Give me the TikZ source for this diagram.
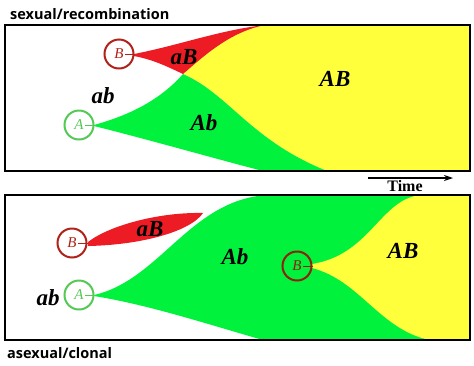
\documentclass[tikz,border=0pt]{standalone}
\usepackage{fontspec}
\setmainfont{Liberation Serif}
\newfontfamily\titlefont{Open Sans}
\usetikzlibrary{arrows.meta}
\definecolor{redfill}{RGB}{237,28,36}
\definecolor{greenfill}{RGB}{0,242,60}
\definecolor{yellowfill}{RGB}{255,255,60}
\definecolor{darkred}{RGB}{175,35,25}
\definecolor{darkbrown}{RGB}{140,35,10}
\definecolor{lightgreen}{RGB}{85,200,85}

\begin{document}
\begin{tikzpicture}[x=1pt,y=-1pt,
    allele/.style={circle,draw,line width=2pt,minimum size=29pt,inner sep=0pt,
      font=\fontsize{15}{15}\selectfont\itshape},
    geno/.style={font=\fontsize{23}{23}\selectfont\bfseries\itshape},
    heading/.style={font=\titlefont\fontsize{14.5}{14.5}\selectfont\bfseries,anchor=base west,inner sep=0pt},
    frame/.style={draw,line width=1.8pt}]
    \useasboundingbox (0,0) rectangle (474,365);

    % Top panel: sexual/recombination
    \fill[yellowfill] (183,74) .. controls (205,55) and (230,32) .. (265,25) -- (470,25)
        -- (470,171) -- (327,171) .. controls (250,140) and (230,95) .. (183,74) -- cycle;
    \fill[redfill] (134,54) .. controls (180,45) and (220,30) .. (265,25)
        .. controls (230,32) and (205,55) .. (183,74)
        .. controls (170,68) and (155,60) .. (134,56) -- cycle;
    \fill[greenfill] (94,125) .. controls (130,115) and (160,100) .. (183,74)
        .. controls (230,95) and (250,140) .. (327,171) -- (263,171)
        .. controls (220,160) and (150,140) .. (94,126) -- cycle;
    \draw[frame] (5,25) rectangle (470,171);
    \node[heading] (toptitle) at (10,19) {sexual/recombination};

    % Mutations
    \node[allele,darkred] (b1) at (119,54) {B};
    \node[allele,lightgreen] (a1) at (79,125) {A};
    \draw[darkred,line width=1pt] ([xshift=6pt]b1.center) -- (b1.east);
    \draw[lightgreen,line width=1pt] ([xshift=6pt]a1.center) -- (a1.east);

    % Genotypes
    \node[geno] (aB1) at (184,57) {aB};
    \node[geno] (ab1) at (103,96) {ab};
    \node[geno] (Ab1) at (204,123) {Ab};
    \node[geno] (AB1) at (335,79) {AB};

    % Time arrow
    \coordinate (tstart) at (368,178);
    \coordinate (tend) at (453,178);
    \draw[-{Stealth[length=9pt,width=6pt]},line width=1.2pt] (tstart) -- (tend);
    \node[font=\fontsize{16}{16}\selectfont\bfseries,inner sep=0pt] (time) at (405,186) {Time};

    % Bottom panel: asexual/clonal
    \fill[greenfill] (94,295) .. controls (160,280) and (190,200) .. (267,195) -- (470,195)
        -- (470,340) -- (263,340) .. controls (210,325) and (150,305) .. (94,296) -- cycle;
    \fill[yellowfill] (312,264) .. controls (370,255) and (380,200) .. (420,195) -- (470,195)
        -- (470,340) -- (430,340) .. controls (380,330) and (360,280) .. (312,268) -- cycle;
    \fill[redfill] (88,242) .. controls (110,225) and (160,212) .. (203,213)
        .. controls (190,232) and (140,245) .. (88,246) -- cycle;
    \draw[frame] (5,195) rectangle (470,340);
    \node[heading] (bottomtitle) at (7,358) {asexual/clonal};

    % Mutations
    \node[allele,darkred] (b2) at (72,243) {B};
    \node[allele,lightgreen] (a2) at (79,295) {A};
    \node[allele,darkbrown] (b3) at (297,266) {B};
    \draw[darkred,line width=1pt] ([xshift=6pt]b2.center) -- (b2.east);
    \draw[lightgreen,line width=1pt] ([xshift=6pt]a2.center) -- (a2.east);
    \draw[darkbrown,line width=1pt] ([xshift=6pt]b3.center) -- (b3.east);

    % Genotypes
    \node[geno] (aB2) at (150,229) {aB};
    \node[geno] (ab2) at (48,298) {ab};
    \node[geno] (Ab2) at (235,257) {Ab};
    \node[geno] (AB2) at (403,251) {AB};
\end{tikzpicture}
\end{document}
